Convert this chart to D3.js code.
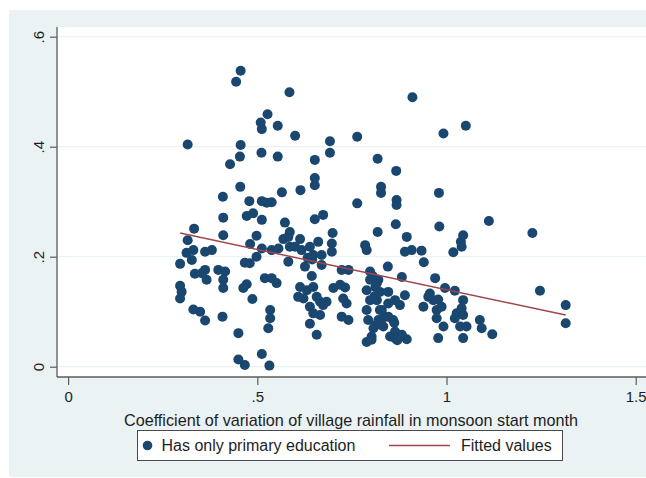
<!DOCTYPE html>
<html>
<head>
<meta charset="utf-8">
<script src="https://cdn.jsdelivr.net/npm/d3@7"></script>
<style>
  html, body { margin: 0; padding: 0; background: #ffffff; }
  svg { display: block; font-family: "Liberation Sans", Arial, sans-serif; }
</style>
</head>
<body>
<svg id="chart" width="646" height="478"></svg>
<script>
// Coefficient of variation of village rainfall (x) for each village
const cvRainfall = [
  0.456,0.444,0.585,0.910,0.527,0.509,0.512,0.554,1.051,0.600,
  0.764,0.992,0.316,0.456,0.692,0.692,0.511,0.454,0.554,0.818,
  0.652,0.428,0.867,0.652,0.652,0.455,0.827,0.827,0.614,0.565,
  0.980,0.409,0.868,0.868,0.764,0.479,0.512,0.538,0.525,0.410,
  0.472,0.489,0.512,0.573,0.586,0.652,0.674,0.866,1.112,0.981,
  1.227,0.333,0.316,0.410,0.498,0.818,0.895,0.699,1.044,1.038,
  1.040,1.018,0.481,0.512,0.538,0.569,0.582,0.556,0.586,0.613,
  0.617,0.600,0.639,0.661,0.648,0.670,0.697,0.697,0.785,0.789,
  0.890,0.908,0.934,0.313,0.331,0.327,0.362,0.380,0.296,0.467,
  0.480,0.498,0.582,0.626,0.670,0.940,0.845,0.335,0.362,0.366,
  0.353,0.397,0.415,0.410,0.410,0.520,0.538,0.472,0.463,0.723,
  0.741,0.551,0.644,0.882,0.970,0.296,0.300,0.296,0.487,0.613,
  0.608,0.631,0.622,0.648,0.657,0.666,0.701,0.719,0.732,0.727,
  0.736,0.723,0.741,0.639,0.648,0.666,0.674,0.683,0.639,0.657,
  0.798,0.798,0.789,0.798,0.789,0.793,0.807,0.802,0.820,0.824,
  0.816,0.824,0.846,0.816,0.829,0.846,0.864,0.877,0.890,0.820,
  0.833,0.846,0.859,0.864,0.851,0.956,0.965,0.952,0.939,0.974,
  0.996,1.022,0.978,0.987,0.974,0.992,1.044,1.040,1.027,1.022,
  1.044,1.036,1.053,1.088,1.093,0.978,1.044,1.247,1.315,1.315,
  1.121,0.789,0.802,0.864,0.895,0.882,0.331,0.349,0.362,0.408,
  0.534,0.534,0.529,0.450,0.450,0.467,0.512,0.532,0.805,0.812,
  0.810,0.835,0.862,0.870,0.812,0.633,0.645
];

// Share of households with only primary education (y), same order as cvRainfall
const primaryShare = [
  0.538,0.518,0.499,0.490,0.459,0.444,0.432,0.438,0.438,0.420,
  0.418,0.424,0.404,0.403,0.410,0.389,0.389,0.382,0.382,0.378,
  0.376,0.368,0.356,0.343,0.330,0.327,0.327,0.316,0.321,0.317,
  0.316,0.309,0.303,0.294,0.297,0.301,0.301,0.299,0.298,0.271,
  0.274,0.279,0.267,0.262,0.245,0.268,0.276,0.259,0.265,0.255,
  0.243,0.251,0.230,0.239,0.238,0.245,0.236,0.243,0.239,0.227,
  0.218,0.208,0.223,0.215,0.212,0.232,0.236,0.215,0.218,0.232,
  0.212,0.218,0.218,0.227,0.203,0.203,0.224,0.209,0.221,0.212,
  0.209,0.212,0.211,0.207,0.212,0.194,0.209,0.212,0.187,0.189,
  0.188,0.200,0.191,0.182,0.185,0.190,0.182,0.169,0.176,0.158,
  0.170,0.176,0.173,0.158,0.143,0.161,0.161,0.150,0.143,0.176,
  0.176,0.152,0.165,0.163,0.161,0.147,0.136,0.124,0.123,0.145,
  0.127,0.139,0.124,0.145,0.127,0.118,0.143,0.149,0.144,0.124,
  0.115,0.091,0.085,0.109,0.097,0.094,0.112,0.118,0.078,0.058,
  0.173,0.158,0.139,0.121,0.103,0.085,0.070,0.055,0.158,0.103,
  0.152,0.136,0.136,0.121,0.103,0.115,0.121,0.112,0.130,0.085,
  0.073,0.091,0.085,0.064,0.055,0.133,0.121,0.127,0.109,0.103,
  0.143,0.138,0.122,0.109,0.088,0.073,0.121,0.106,0.097,0.088,
  0.094,0.073,0.073,0.085,0.070,0.052,0.052,0.138,0.112,0.079,
  0.059,0.045,0.049,0.052,0.050,0.058,0.104,0.100,0.084,0.091,
  0.103,0.088,0.070,0.061,0.013,0.003,0.023,0.002,0.165,0.145,
  0.128,0.090,0.080,0.048,0.075,0.198,0.195
];

// Linear fit (fitted values) at the ends of the observed x range
const fitX = [0.296, 1.315];
const fitY = [0.243, 0.094];

const xTicks = [0, 0.5, 1, 1.5];
const xTickLabels = ["0", ".5", "1", "1.5"];
const yTicks = [0, 0.2, 0.4, 0.6];
const yTickLabels = ["0", ".2", ".4", ".6"];

const seriesLabels = ["Has only primary education", "Fitted values"];
const xTitle = "Coefficient of variation of village rainfall in monsoon start month";

const W = 646, H = 478;
const markerColor = "#1a476f";
const fitColor = "#a0464e";
const panelColor = "#eaf2f3";
const axisColor = "#5c5c5c";
const textColor = "#1e1e1e";

const svg = d3.select("#chart");

// outer graph region
svg.append("rect")
  .attr("x", 9).attr("y", 10)
  .attr("width", W - 9).attr("height", 467)
  .attr("fill", panelColor);

// plot region
const plot = { left: 57, top: 27, right: W, bottom: 377 };
svg.append("rect")
  .attr("x", plot.left).attr("y", plot.top)
  .attr("width", plot.right - plot.left).attr("height", plot.bottom - plot.top)
  .attr("fill", "#ffffff");

const x = d3.scaleLinear().domain([0, 1.5]).range([68.1, 635.7]);
const y = d3.scaleLinear().domain([0, 0.6]).range([366.7, 36.7]);

// horizontal grid lines
svg.append("g")
  .selectAll("line")
  .data(yTicks)
  .join("line")
  .attr("x1", plot.left).attr("x2", plot.right)
  .attr("y1", d => y(d)).attr("y2", d => y(d))
  .attr("stroke", panelColor)
  .attr("stroke-width", 1.2);

// y axis
const yAxis = svg.append("g")
  .attr("transform", `translate(${plot.left},0)`)
  .call(d3.axisLeft(y)
    .tickValues(yTicks)
    .tickSize(7)
    .tickFormat((d, i) => yTickLabels[i]));
yAxis.select(".domain").remove();
yAxis.append("line")
  .attr("x1", 0).attr("x2", 0)
  .attr("y1", plot.top).attr("y2", plot.bottom)
  .attr("stroke", axisColor).attr("stroke-width", 1.3);
yAxis.selectAll(".tick line").attr("stroke", axisColor).attr("stroke-width", 1.2);
yAxis.selectAll(".tick text")
  .attr("x", null).attr("dy", "0.36em")
  .attr("transform", "translate(-18,0) rotate(-90)")
  .attr("text-anchor", "middle")
  .attr("fill", textColor)
  .style("font-size", "15px");

// x axis
const xAxis = svg.append("g")
  .attr("transform", `translate(0,${plot.bottom})`)
  .call(d3.axisBottom(x)
    .tickValues(xTicks)
    .tickSize(8)
    .tickPadding(6)
    .tickFormat((d, i) => xTickLabels[i]));
xAxis.select(".domain").remove();
xAxis.append("line")
  .attr("x1", plot.left).attr("x2", plot.right)
  .attr("y1", 0).attr("y2", 0)
  .attr("stroke", axisColor).attr("stroke-width", 1.3);
xAxis.selectAll(".tick line").attr("stroke", axisColor).attr("stroke-width", 1.2);
xAxis.selectAll(".tick text")
  .attr("fill", textColor)
  .style("font-size", "15px");

// axis title
svg.append("text")
  .attr("x", 351).attr("y", 425.5)
  .attr("text-anchor", "middle")
  .attr("fill", textColor)
  .style("font-size", "16.2px")
  .text(xTitle);

// scatter points
const points = cvRainfall.map((v, i) => ({ cv: v, share: primaryShare[i] }));
svg.append("g")
  .selectAll("circle")
  .data(points)
  .join("circle")
  .attr("cx", d => x(d.cv))
  .attr("cy", d => y(d.share))
  .attr("r", 5)
  .attr("fill", markerColor);

// fitted line
svg.append("path")
  .datum(fitX.map((v, i) => [v, fitY[i]]))
  .attr("d", d3.line().x(d => x(d[0])).y(d => y(d[1])))
  .attr("fill", "none")
  .attr("stroke", fitColor)
  .attr("stroke-width", 1.5);

// legend
const legend = svg.append("g");
legend.append("rect")
  .attr("x", 137.5).attr("y", 430.5)
  .attr("width", 425).attr("height", 30)
  .attr("fill", "#ffffff")
  .attr("stroke", "#4a4a4a").attr("stroke-width", 1);
legend.append("circle")
  .attr("cx", 147.5).attr("cy", 445.5).attr("r", 4.8)
  .attr("fill", markerColor);
legend.append("text")
  .attr("x", 161.5).attr("y", 451.2)
  .attr("fill", textColor)
  .style("font-size", "16px")
  .text(seriesLabels[0]);
legend.append("line")
  .attr("x1", 389).attr("x2", 450)
  .attr("y1", 445.5).attr("y2", 445.5)
  .attr("stroke", fitColor).attr("stroke-width", 1.5);
legend.append("text")
  .attr("x", 461).attr("y", 451.2)
  .attr("fill", textColor)
  .style("font-size", "16px")
  .text(seriesLabels[1]);
</script>
</body>
</html>
